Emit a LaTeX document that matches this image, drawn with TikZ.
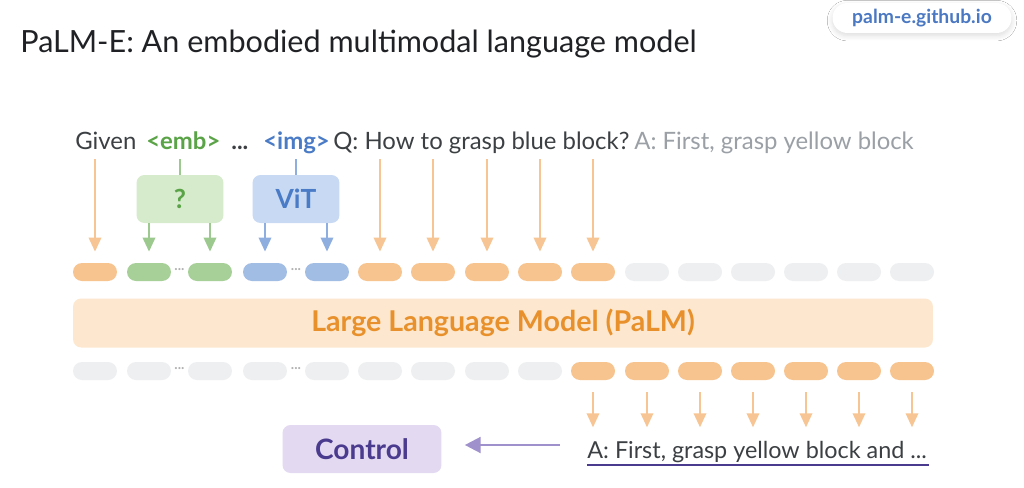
\documentclass[tikz,border=0pt]{standalone}
\usepackage{fontspec}
\setmainfont{Lato}
\usetikzlibrary{arrows.meta,positioning,calc,shadows.blur}

\definecolor{titlegray}{HTML}{202124}
\definecolor{textgray}{HTML}{3C4043}
\definecolor{answergray}{HTML}{9AA0A6}
\definecolor{linkblue}{HTML}{4A78C2}
\definecolor{tokorange}{HTML}{F7C38F}
\definecolor{tokgreen}{HTML}{A7CF98}
\definecolor{tokblue}{HTML}{A2BDE4}
\definecolor{tokgray}{HTML}{EEEFF0}
\definecolor{arrorange}{HTML}{F6C593}
\definecolor{arrgreen}{HTML}{9CC98E}
\definecolor{arrblue}{HTML}{8EAEDF}
\definecolor{embgreen}{HTML}{5AA347}
\definecolor{boxgreen}{HTML}{D6EBCC}
\definecolor{boxblue}{HTML}{C8DAF3}
\definecolor{imgblue}{HTML}{4A7BC6}
\definecolor{llmfill}{HTML}{FDE8CF}
\definecolor{llmtext}{HTML}{E8912C}
\definecolor{ctrlfill}{HTML}{E3DAF2}
\definecolor{ctrltext}{HTML}{4B3B8E}
\definecolor{ctrlarrow}{HTML}{9F91CC}

\begin{document}
\begin{tikzpicture}[
    x=0.02cm, y=-0.02cm,
    token/.style={rectangle, rounded corners=0.18cm, minimum width=0.88cm, minimum height=0.36cm, inner sep=0pt},
    tokarrow/.style={draw=#1, line width=1.4pt, -{Triangle[width=7pt,length=8pt]}},
    modbox/.style={rectangle, rounded corners=0.16cm, minimum width=1.74cm, minimum height=0.96cm, font=\fontsize{15}{18}\selectfont\bfseries},
    word/.style={inner sep=0pt, anchor=base west, font=\fontsize{13.6}{16}\selectfont}
]
  % frame
  \useasboundingbox (0,0) rectangle (1024,487);
  \fill[white] (0,0) rectangle (1024,487);

  % title and link
  \node[anchor=base west, inner sep=0pt, text=titlegray, font=\fontsize{17.4}{21}\selectfont] (title) at (20,52) {PaLM-E: An embodied multimodal language model};
  \node[rectangle, rounded corners=0.3cm, fill=white, minimum width=3.58cm, minimum height=0.6cm,
        blur shadow={shadow xshift=0pt, shadow yshift=-1.5pt, shadow blur steps=8, shadow blur radius=3pt, shadow opacity=14},
        text=linkblue, font=\fontsize{11}{13}\selectfont\bfseries] (link) at (922,18) {palm-e.github.io};

  % input sentence
  \node[word, text=textgray] (given) at (75,149) {Given};
  \node[word, text=embgreen, font=\fontsize{13.6}{16}\selectfont\bfseries] (emb) at (146,149) {<emb>};
  \node[word, text=textgray, font=\fontsize{13.6}{16}\selectfont\bfseries] (dots) at (231,149) {...};
  \node[word, text=imgblue, font=\fontsize{13.6}{16}\selectfont\bfseries] (img) at (263,149) {<img>};
  \node[word, text=textgray] (question) at (333,149) {Q: How to grasp blue block?};
  \node[word, text=answergray] (answer) at (634,149) {A: First, grasp yellow block};

  % encoders
  \node[modbox, fill=boxgreen, text=embgreen] (enc) at (180,199) {?};
  \node[modbox, fill=boxblue, text=imgblue] (vit) at (296,199) {ViT};

  % input tokens
  \foreach \x/\c [count=\i] in {95/tokorange,149/tokgreen,210/tokgreen,265/tokblue,327/tokblue,
      380/tokorange,433/tokorange,487/tokorange,540/tokorange,593/tokorange,
      647/tokgray,700/tokgray,753/tokgray,806/tokgray,859/tokgray,912/tokgray}
    \node[token, fill=\c] (in\i) at (\x,272) {};

  % output tokens
  \foreach \x/\c [count=\i] in {95/tokgray,149/tokgray,210/tokgray,265/tokgray,327/tokgray,
      380/tokgray,433/tokgray,487/tokgray,540/tokgray,593/tokorange,
      647/tokorange,700/tokorange,753/tokorange,806/tokorange,859/tokorange,912/tokorange}
    \node[token, fill=\c] (out\i) at (\x,371) {};

  % dots between grouped tokens
  \foreach \a/\b in {in2/in3,in4/in5,out2/out3,out4/out5}
    \node[text=gray!60, font=\fontsize{8}{8}\selectfont\bfseries, inner sep=0pt] at ($(\a.east)!0.5!(\b.west)+(0,-2)$) {...};

  % language model
  \node[rectangle, rounded corners=0.16cm, fill=llmfill, minimum width=17.2cm, minimum height=0.98cm,
        text=llmtext, font=\fontsize{16.3}{19}\selectfont\bfseries] (llm) at (503,323) {Large Language Model (PaLM)};

  % arrows into tokens
  \draw[tokarrow=arrorange] (in1 |- 0,159) -- ($(in1.north)+(0,-11)$);
  \foreach \i in {6,...,10}
    \draw[tokarrow=arrorange] (in\i |- 0,159) -- ($(in\i.north)+(0,-11)$);
  \draw[draw=arrgreen, line width=1.4pt] (enc |- 0,159) -- (enc.north);
  \draw[draw=arrblue, line width=1.4pt] (vit |- 0,159) -- (vit.north);
  \foreach \i in {2,3}
    \draw[tokarrow=arrgreen] (in\i |- enc.south) -- ($(in\i.north)+(0,-11)$);
  \foreach \i in {4,5}
    \draw[tokarrow=arrblue] (in\i |- vit.south) -- ($(in\i.north)+(0,-11)$);

  % generated text
  \node[anchor=base west, inner sep=0pt, text=textgray, font=\fontsize{13.3}{16}\selectfont] (gen) at (587,458) {A: First, grasp yellow block and ...};
  \draw[ctrltext, line width=1.6pt] ($(gen.base west)+(0,7)$) -- ($(gen.base east)+(2,7)$);
  \foreach \i in {10,...,16}
    \draw[tokarrow=arrorange] ($(out\i.south)+(0,12)$) -- ($(out\i.south)+(0,47)$);

  % control
  \node[rectangle, rounded corners=0.16cm, fill=ctrlfill, minimum width=3.18cm, minimum height=0.96cm,
        text=ctrltext, font=\fontsize{16}{19}\selectfont\bfseries] (ctrl) at (362,449) {Control};
  \coordinate (genleft) at ($(gen.base west)+(-27,-13)$);
  \draw[draw=ctrlarrow, line width=1.4pt, -{Triangle[width=9pt,length=9pt]}, shorten >=0.46cm] (genleft) -- (ctrl.east |- genleft);
\end{tikzpicture}
\end{document}
